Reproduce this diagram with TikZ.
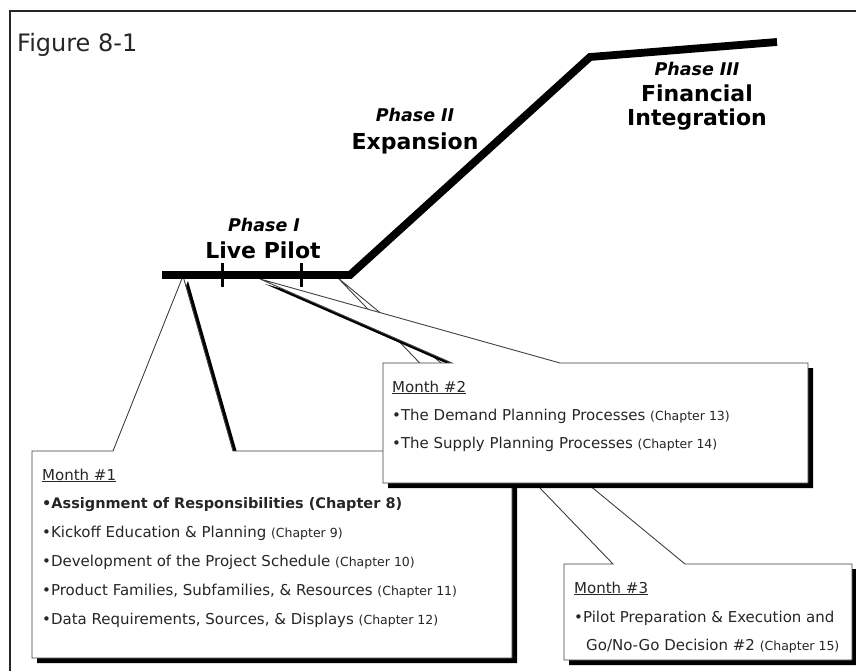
\documentclass[tikz,border=0pt]{standalone}
\usepackage{fontspec}
\setmainfont{DejaVu Sans}
\usetikzlibrary{shadows}

\newcommand{\chapnote}[1]{{\fontsize{12.5}{15}\selectfont(Chapter #1)}}

\begin{document}
\begin{tikzpicture}[
  x=1pt, y=-1pt,
  frame/.style={draw=black!85, line width=2.2pt},
  phase/.style={line width=7.8pt, line join=miter},
  tick/.style={line width=3pt},
  callout/.style={draw=black!75, fill=white, line width=0.9pt,
                  drop shadow={shadow xshift=5pt, shadow yshift=-5pt,
                               opacity=1, fill=black}},
  num/.style={anchor=base, inner sep=0pt,
              font=\fontsize{17.5}{20}\selectfont\bfseries\itshape},
  title/.style={anchor=base, inner sep=0pt,
                font=\fontsize{22}{24}\selectfont\bfseries},
  month/.style={anchor=base west, inner sep=0pt, text=black!85,
                font=\fontsize{15}{18}\selectfont},
  item/.style={month}]
  \useasboundingbox (0,0) rectangle (856,671);
  \clip (0,0) rectangle (856,671);
  \draw[frame] (10,11) rectangle (880,700);
  \node[month, font=\fontsize{24}{28}\selectfont] (fig) at (17,52) {Figure 8-1};

  % points on the time line
  \coordinate (start) at (162,275);
  \coordinate (p1end) at (350,275);
  \coordinate (p2end) at (590,57);
  \coordinate (p3end) at (777,42);
  \coordinate (tip1) at (183,276);
  \coordinate (tip2) at (260,279);
  \coordinate (tip3) at (338,278);

  % callouts, back to front
  \draw[callout] (564,564) -- (613,564) -- (tip3) -- (685,564) -- (852,564)
    -- (852,660) -- (564,660) -- cycle;
  \draw[callout] (32,451) -- (113,451) -- (tip1) -- (233,451) -- (512,451)
    -- (512,658) -- (32,658) -- cycle;
  \draw[callout] (383,363) -- (452,363) -- (tip2) -- (560,363) -- (808,363)
    -- (808,483) -- (383,483) -- cycle;

  % time line
  \draw[phase] (start) -- (p1end) -- (p2end) -- (p3end);
  \coordinate (t1a) at (222,263);
  \coordinate (t1b) at (222,287);
  \coordinate (t2a) at (301,263);
  \coordinate (t2b) at (301,287);
  \draw[tick] (t1a) -- (t1b);
  \draw[tick] (t2a) -- (t2b);

  \node[num] (p1n) at (264,231) {Phase I};
  \node[title] (p1t) at (263,258) {Live Pilot};
  \node[num] (p2n) at (415,122) {Phase II};
  \node[title] (p2t) at (415,150) {Expansion};
  \node[num] (p3n) at (697,76) {Phase III};
  \node[title] (p3t) at (697,102) {Financial};
  \node[title] (p3u) at (697,126) {Integration};

  % month 1
  \node[month] (m1) at (42,480) {\underline{Month \#1}};
  \node[item, font=\fontsize{14.5}{18}\selectfont\bfseries] (m1a) at (42,508)
    {\textbullet Assignment of Responsibilities (Chapter 8)};
  \node[item] (m1b) at (42,537) {\textbullet Kickoff Education \& Planning \chapnote{9}};
  \node[item] (m1c) at (42,566) {\textbullet Development of the Project Schedule \chapnote{10}};
  \node[item] (m1d) at (42,595) {\textbullet Product Families, Subfamilies, \& Resources \chapnote{11}};
  \node[item] (m1e) at (42,624) {\textbullet Data Requirements, Sources, \& Displays \chapnote{12}};

  % month 2
  \node[month] (m2) at (392,392) {\underline{Month \#2}};
  \node[item] (m2a) at (392,420) {\textbullet The Demand Planning Processes \chapnote{13}};
  \node[item] (m2b) at (392,448) {\textbullet The Supply Planning Processes \chapnote{14}};

  % month 3
  \node[month] (m3) at (574,593) {\underline{Month \#3}};
  \node[item] (m3a) at (574,622) {\textbullet Pilot Preparation \& Execution and};
  \node[item] (m3b) at (586,650) {Go/No-Go Decision \#2 \chapnote{15}};
\end{tikzpicture}
\end{document}
